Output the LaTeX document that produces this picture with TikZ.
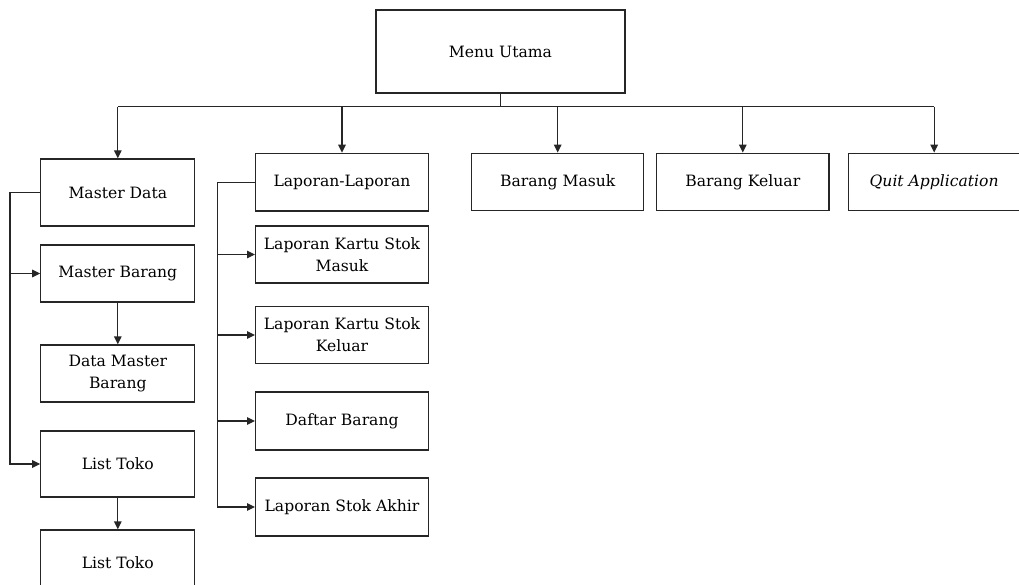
\documentclass[tikz,border=0pt]{standalone}
\usepackage{fontspec}
\setmainfont{DejaVu Serif}
\usetikzlibrary{arrows.meta}
\begin{document}
\begin{tikzpicture}[x=1pt,y=-1pt,
  box/.style={draw=black!85, line width=1.3pt, rectangle, inner sep=0pt, align=center,
    font=\fontsize{15.6}{22}\selectfont, text=black},
  lbox/.style={box, minimum width=154pt},
  mbox/.style={box, minimum width=172.6pt},
  link/.style={draw=black!85, line width=1.3pt},
  arr/.style={link, -{Triangle[length=8pt,width=7.5pt]}}]
\useasboundingbox (0,0) rectangle (1019,585);
% top
\node[box, minimum width=249pt, minimum height=83pt] (menu) at (500.5,51.5) {Menu Utama};
% left column
\node[lbox, minimum height=67pt] (md) at (117.8,192.5) {Master Data};
\node[lbox, minimum height=57pt] (mb) at (117.8,273.5) {Master Barang};
\node[lbox, minimum height=57pt] (dmb) at (117.8,373.5) {Data Master\\Barang};
\node[lbox, minimum height=66pt] (lt1) at (117.8,464) {List Toko};
\node[lbox, minimum height=66pt] (lt2) at (117.8,563) {List Toko};
% middle column
\node[mbox, minimum height=57.7pt] (lap) at (342,182.2) {Laporan-Laporan};
\node[mbox, minimum height=57pt] (lkm) at (342,254.5) {Laporan Kartu Stok\\Masuk};
\node[mbox, minimum height=57pt] (lkk) at (342,335) {Laporan Kartu Stok\\Keluar};
\node[mbox, minimum height=58pt] (db) at (342,421) {Daftar Barang};
\node[mbox, minimum height=58pt] (lsa) at (342,507) {Laporan Stok Akhir};
% right boxes
\node[box, minimum width=172pt, minimum height=57.4pt] (bm) at (557.7,182) {Barang Masuk};
\node[box, minimum width=172.3pt, minimum height=57.4pt] (bk) at (742.8,182) {Barang Keluar};
\node[box, minimum width=171.7pt, minimum height=57.4pt] (quit) at (934.15,182) {\itshape Quit Application};
% bus
\coordinate (busy) at (0,106.7);
\draw[link] (menu.south) -- (menu.south |- busy);
\draw[link] (md.north |- busy) -- (quit.north |- busy);
\foreach \n in {md,lap,bm,bk,quit} \draw[arr] (\n.north |- busy) -- (\n.north);
% left spine
\coordinate (ls) at (10,0);
\draw[arr] (md.west) -- (md.west -| ls) |- (lt1.west);
\draw[arr] (mb.west -| ls) -- (mb.west);
\draw[arr] (mb.south) -- (dmb.north);
\draw[arr] (lt1.south) -- (lt2.north);
% middle spine
\coordinate (ms) at (217.3,0);
\draw[arr] (lap.west) -- (lap.west -| ms) |- (lsa.west);
\foreach \n in {lkm,lkk,db} \draw[arr] (\n.west -| ms) -- (\n.west);
\end{tikzpicture}
\end{document}
